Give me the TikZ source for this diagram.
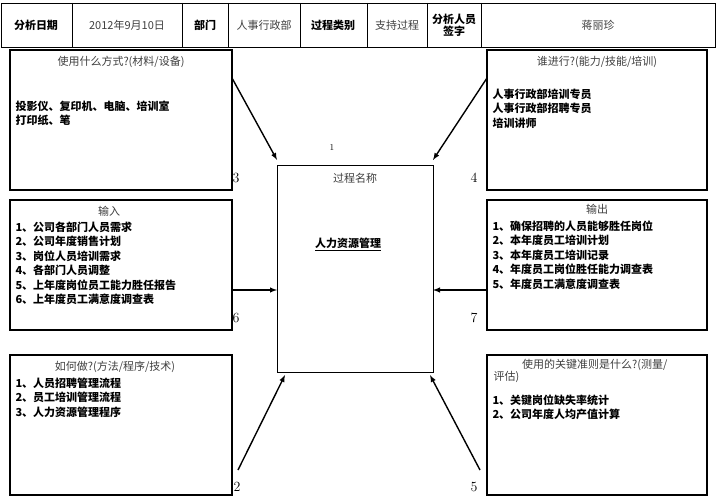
\documentclass[tikz,border=0pt]{standalone}
\usepackage{fontspec}
\newfontfamily\cjk{Noto Sans CJK SC}
\usetikzlibrary{arrows,calc}
\tikzstyle{tsBox} = [
    draw=black,
    line width=1.2pt]
\tikzstyle{tsHead} = [
    font=\cjk\fontsize{11}{12}\selectfont,
    text=black,
    align=center]
\tikzstyle{tsText} = [
    font=\cjk\bfseries\fontsize{11}{14.5}\selectfont,
    text=black,
    align=left,
    anchor=north west]
\tikzstyle{tsArrow} = [
    -latex,
    line width=1.4pt]

\begin{document}
\begin{tikzpicture}[x=1pt, y=-1pt]
        \useasboundingbox[fill=white] (0,0) rectangle (716,500);

        % header row
        \draw[line width=0.8pt] (1,3) rectangle (715,47);
        \foreach \x in {72,182,228,300,367,427,481}
            \draw[line width=0.6pt] (\x,3) -- (\x,47);
        \node[tsHead, font=\cjk\bfseries\fontsize{11}{12}\selectfont] (hDate) at (36,25) {分析日期};
        \node[tsHead, text=black!75] (vDate) at (127,25) {2012年9月10日};
        \node[tsHead, font=\cjk\bfseries\fontsize{11}{12}\selectfont] (hDept) at (205,25) {部门};
        \node[tsHead, text=black!75] (vDept) at (264,25) {人事行政部};
        \node[tsHead, font=\cjk\bfseries\fontsize{11}{12}\selectfont] (hType) at (333,25) {过程类别};
        \node[tsHead, text=black!75] (vType) at (397,25) {支持过程};
        \node[tsHead, font=\cjk\bfseries\fontsize{11}{12}\selectfont] (hSign) at (454,25) {分析人员\\签字};
        \node[tsHead, text=black!75] (vSign) at (598,25) {蒋丽珍};

        % boxes
        \draw[tsBox] (10,50) rectangle (232,190);
        \draw[tsBox] (487,50) rectangle (707,190);
        \draw[tsBox] (10,200) rectangle (232,330);
        \draw[tsBox] (487,200) rectangle (707,330);
        \draw[tsBox] (10,355) rectangle (232,495);
        \draw[tsBox] (487,355) rectangle (707,495);
        \draw[line width=0.9pt] (277,165) rectangle (433,372);

        % box titles
        \node[tsHead, text=black!75] (tTools) at (121,62) {使用什么方式?(材料/设备)};
        \node[tsHead, text=black!75] (tWho) at (597,62) {谁进行?(能力/技能/培训)};
        \node[tsHead, text=black!75] (tIn) at (109,211) {输入};
        \node[tsHead, text=black!75] (tOut) at (597,209) {输出};
        \node[tsHead, text=black!75] (tHow) at (115,367) {如何做?(方法/程序/技术)};
        \node[tsHead, text=black!75, align=left, anchor=north west] (tKey) at (490,356) {\hspace{2.6em}使用的关键准则是什么?(测量/\\评估)};
        \node[tsHead, text=black!75] (tName) at (355,178) {过程名称};
        \node[tsHead, font=\cjk\bfseries\fontsize{11}{12}\selectfont] (pName) at (348,244) {\underline{人力资源管理}};

        % box contents
        \node[tsText] (cTools) at (12,97) {投影仪、复印机、电脑、培训室\\打印纸、笔};
        \node[tsText] (cWho) at (489,85) {人事行政部培训专员\\人事行政部招聘专员\\培训讲师};
        \node[tsText] (cIn) at (12,218) {1、公司各部门人员需求\\2、公司年度销售计划\\3、岗位人员培训需求\\4、各部门人员调整\\5、上年度岗位员工能力胜任报告\\6、上年度员工满意度调查表};
        \node[tsText] (cOut) at (489,217) {1、确保招聘的人员能够胜任岗位\\2、本年度员工培训计划\\3、本年度员工培训记录\\4、年度员工岗位胜任能力调查表\\5、年度员工满意度调查表};
        \node[tsText] (cHow) at (12,374) {1、人员招聘管理流程\\2、员工培训管理流程\\3、人力资源管理程序};
        \node[tsText] (cKey) at (489,391) {1、关键岗位缺失率统计\\2、公司年度人均产值计算};

        % numbers
        \node[font=\fontsize{9}{10}\selectfont] (n1) at (332,148) {1};
        \node[font=\fontsize{14}{14}\selectfont] (n3) at (236,178) {3};
        \node[font=\fontsize{14}{14}\selectfont] (n4) at (474,178) {4};
        \node[font=\fontsize{14}{14}\selectfont] (n6) at (236,318) {6};
        \node[font=\fontsize{14}{14}\selectfont] (n7) at (474,318) {7};
        \node[font=\fontsize{14}{14}\selectfont] (n2) at (237,487) {2};
        \node[font=\fontsize{14}{14}\selectfont] (n5) at (474,487) {5};

        % arrows
        \coordinate (aTL) at (232,78);
        \coordinate (aTR) at (487,78);
        \coordinate (aML) at (232,290);
        \coordinate (aMR) at (487,290);
        \coordinate (aBL) at (238,470);
        \coordinate (aBR) at (480,470);
        \draw[tsArrow] (aTL) -- (277,160);
        \draw[tsArrow] (aTR) -- (433,160);
        \draw[tsArrow] (aML) -- (277,290);
        \draw[tsArrow] (aMR) -- (433,290);
        \draw[tsArrow] (aBL) -- (285,375);
        \draw[tsArrow] (aBR) -- (430,375);
\end{tikzpicture}
\end{document}
